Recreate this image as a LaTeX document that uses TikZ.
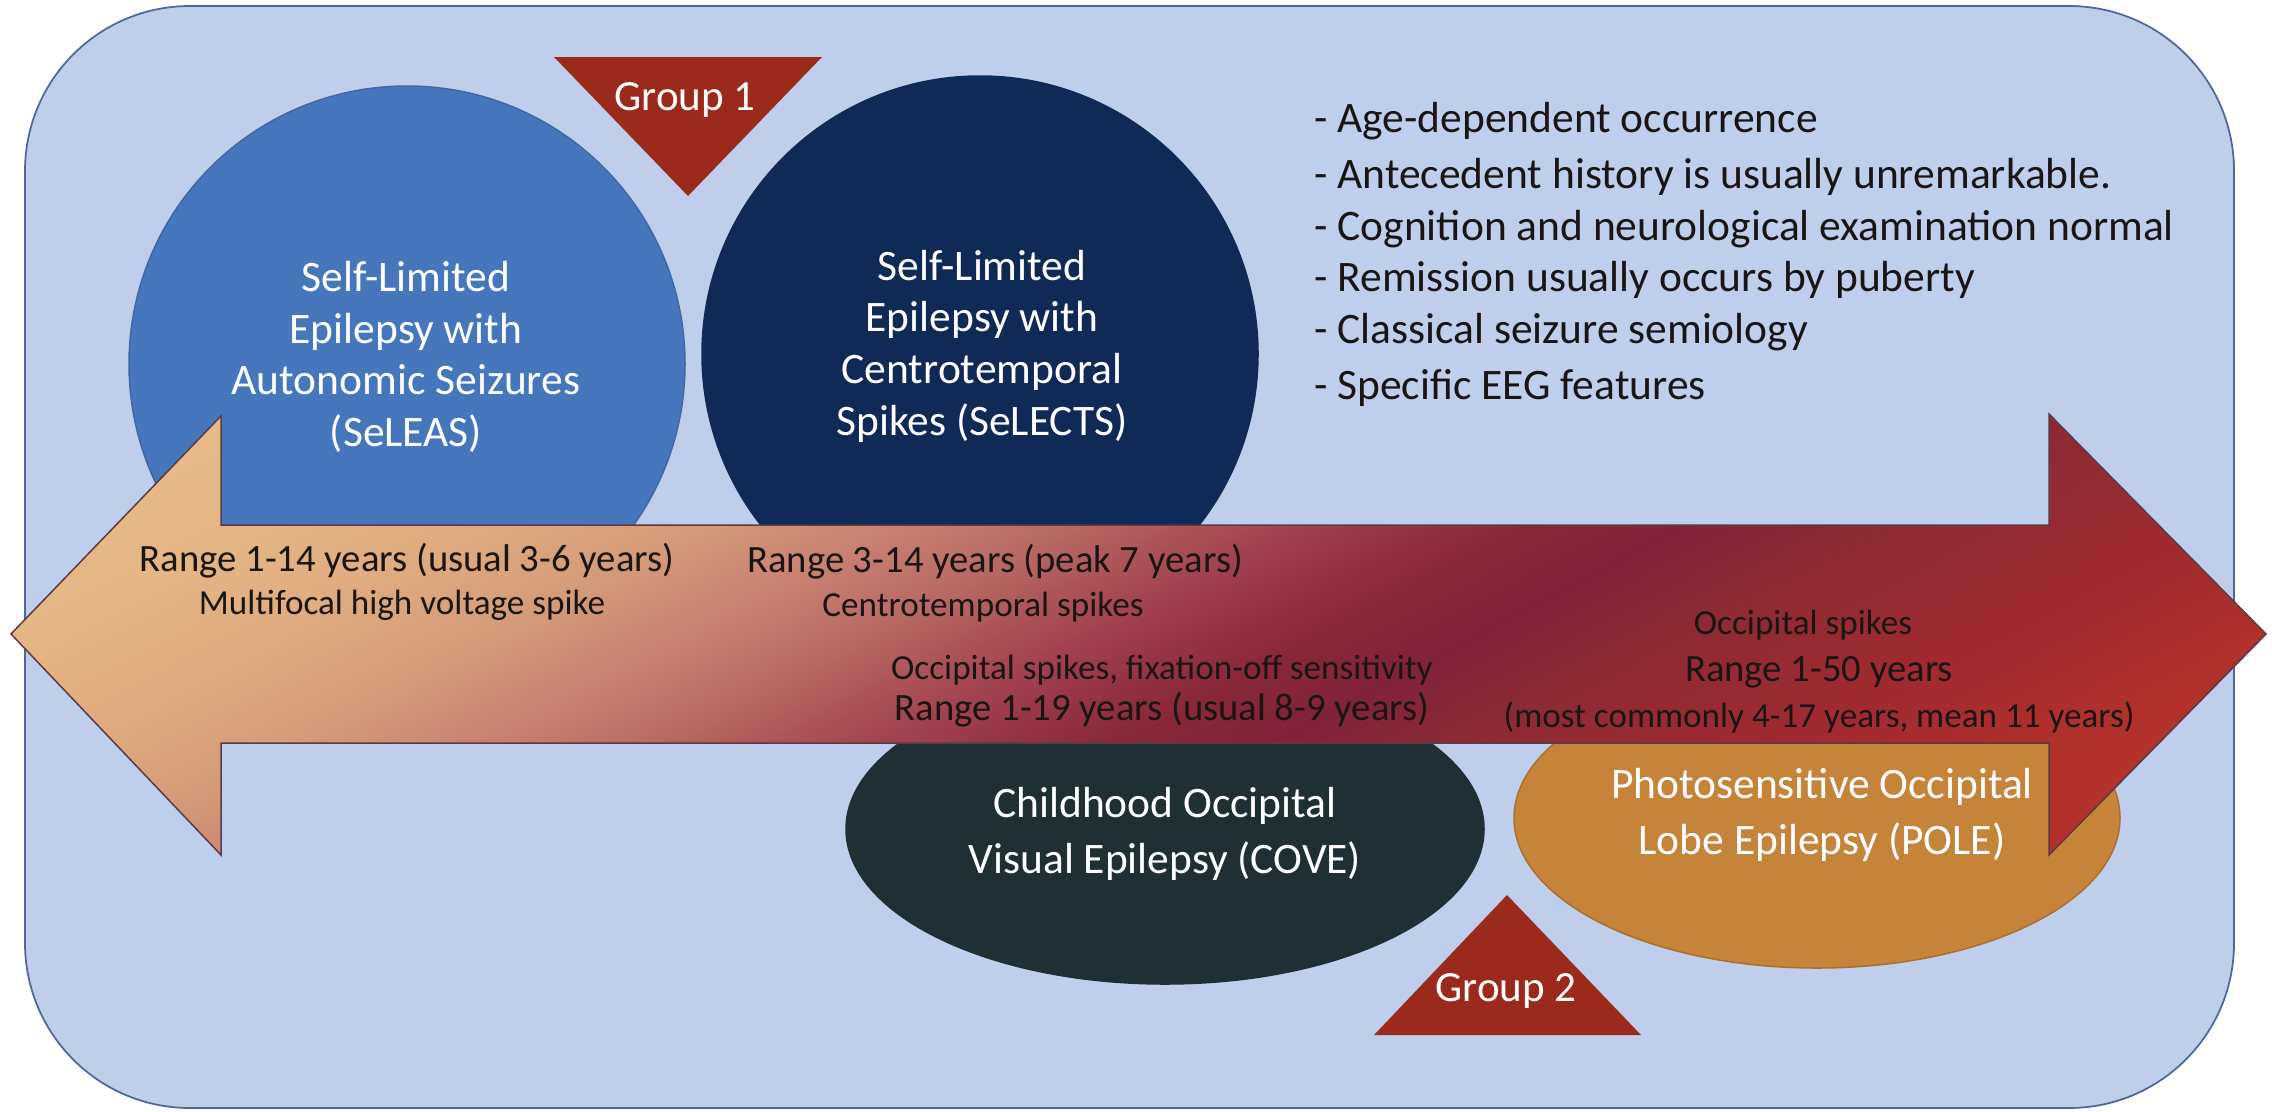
\documentclass[tikz,border=0pt]{standalone}
\usepackage{fontspec}
\setmainfont{Carlito}
\usetikzlibrary{shapes.geometric}
\definecolor{bgblue}{HTML}{BFCEEA}
\definecolor{bgedge}{HTML}{4E6896}
\definecolor{seleascol}{HTML}{4677BD}
\definecolor{seleasedge}{HTML}{3E68A6}
\definecolor{selectscol}{HTML}{0F2A56}
\definecolor{covecol}{HTML}{1F2F33}
\definecolor{polecol}{HTML}{C6843A}
\definecolor{grpcol}{HTML}{9B2A1D}
\definecolor{arrowedge}{HTML}{5A3A44}
\definecolor{darktext}{HTML}{1A1414}
\definecolor{ga}{HTML}{E8BC8C}
\definecolor{gb}{HTML}{E4B484}
\definecolor{gc}{HTML}{E0AC80}
\definecolor{gd}{HTML}{D49A78}
\definecolor{ge}{HTML}{C88070}
\definecolor{gf}{HTML}{B86A62}
\definecolor{gg}{HTML}{A04050}
\definecolor{gh}{HTML}{882838}
\definecolor{gi}{HTML}{80223A}
\definecolor{gj}{HTML}{8A2A35}
\definecolor{gk}{HTML}{A02A30}
\definecolor{gl}{HTML}{B0302A}
\definecolor{gm}{HTML}{B5322A}
\pgfdeclarehorizontalshading{arrowgrad}{100bp}{color(0bp)=(ga); color(25bp)=(ga); color(31.06bp)=(gb); color(34.09bp)=(gc); color(38.64bp)=(gd); color(42.05bp)=(ge); color(45.08bp)=(gf); color(49.24bp)=(gg); color(53.03bp)=(gh); color(56.06bp)=(gi); color(59.09bp)=(gj); color(65.15bp)=(gk); color(69.7bp)=(gl); color(75bp)=(gm); color(100bp)=(gm)}
\begin{document}
\begin{tikzpicture}[x=0.2mm, y=-0.2mm,
  circtext/.style={font=\fontsize{24.75}{29.4}\selectfont, align=center, text=white, inner sep=0pt},
  elltext/.style={font=\fontsize{24.75}{31.9}\selectfont, align=center, text=white, inner sep=0pt},
  grptext/.style={font=\fontsize{24.5}{29}\selectfont, text=white, inner sep=0pt},
  bullet/.style={font=\fontsize{24.75}{29}\selectfont, text=darktext, anchor=west, inner sep=0pt},
  rangetext/.style={font=\fontsize{22}{26}\selectfont, text=darktext, inner sep=0pt},
  smalltext/.style={font=\fontsize{20}{24}\selectfont, text=darktext, inner sep=0pt},
  blob/.style={inner sep=0pt, line width=0.3mm}]
\useasboundingbox (0,0) rectangle (2272,1111);
\fill[white] (0,0) rectangle (2272,1111);
% frame
\draw[fill=bgblue, draw=bgedge, line width=0.35mm, rounded corners=33mm] (25,6) rectangle (2234,1108);
% circles behind the arrow
\node[blob, circle, fill=seleascol, draw=seleasedge, minimum size=556*0.2mm] (seleas) at (407,364) {};
\node[blob, circle, fill=selectscol, draw=selectscol, minimum size=556*0.2mm] (selects) at (980,354) {};
% ellipses behind the arrow
\node[blob, ellipse, fill=covecol, draw=covecol, minimum width=638*0.2mm, minimum height=310*0.2mm] (cove) at (1165,829) {};
\node[blob, ellipse, fill=polecol, draw=polecol!85!black, minimum width=606*0.2mm, minimum height=300*0.2mm] (pole) at (1817,818) {};
% group 1 triangle
\fill[grpcol] (554,57) -- (822,57) -- (688,196) -- cycle;
% double arrow
\begin{scope}
\clip (11,634) -- (221,416) -- (221,525) -- (2049,525) -- (2049,414) -- (2266,634) -- (2049,855) -- (2049,743) -- (221,743) -- (221,855) -- cycle;
\shade[shading=arrowgrad, transform canvas={rotate around={-62:(1140,634)}}] (480,-486) rectangle (1800,1754);
\end{scope}
\draw[draw=arrowedge, line width=0.3mm, line join=miter] (11,634) -- (221,416) -- (221,525) -- (2049,525) -- (2049,414) -- (2266,634) -- (2049,855) -- (2049,743) -- (221,743) -- (221,855) -- cycle;
% group 2 triangle
\fill[grpcol] (1374,1035) -- (1641,1035) -- (1507,895) -- cycle;
% texts
\node[circtext] (seleasT) at (406,357) {Self-Limited\\Epilepsy with\\Autonomic Seizures\\(SeLEAS)};
\node[circtext] (selectsT) at (982,346) {Self-Limited\\Epilepsy with\\Centrotemporal\\Spikes (SeLECTS)};
\node[elltext] (coveT) at (1165,834) {Childhood Occipital\\Visual Epilepsy (COVE)};
\node[elltext] (poleT) at (1822,815) {Photosensitive Occipital\\Lobe Epilepsy (POLE)};
\node[grptext] (g1T) at (685,100) {Group 1};
\node[grptext] (g2T) at (1506,991) {Group 2};
\node[bullet] (b1) at (1314,121) {- Age-dependent occurrence};
\node[bullet] (b2) at (1314,177) {- Antecedent history is usually unremarkable.};
\node[bullet] (b3) at (1314,229) {- Cognition and neurological examination normal};
\node[bullet] (b4) at (1314,280) {- Remission usually occurs by puberty};
\node[bullet] (b5) at (1314,332) {- Classical seizure semiology};
\node[bullet] (b6) at (1314,388) {- Specific EEG features};
\node[rangetext] (r1a) at (407,561) {Range 1-14 years (usual 3-6 years)};
\node[smalltext] (r1b) at (402,605) {Multifocal high voltage spike};
\node[rangetext] (r2a) at (995,562) {Range 3-14 years (peak 7 years)};
\node[smalltext] (r2b) at (983,607) {Centrotemporal spikes};
\node[smalltext] (r3a) at (1162,670) {Occipital spikes, fixation-off sensitivity};
\node[rangetext] (r3b) at (1162,710) {Range 1-19 years (usual 8-9 years)};
\node[smalltext] (r4a) at (1803,625) {Occipital spikes};
\node[rangetext] (r4b) at (1819,672) {Range 1-50 years};
\node[smalltext] (r4c) at (1819,717) {(most commonly 4-17 years, mean 11 years)};
\end{tikzpicture}
\end{document}
